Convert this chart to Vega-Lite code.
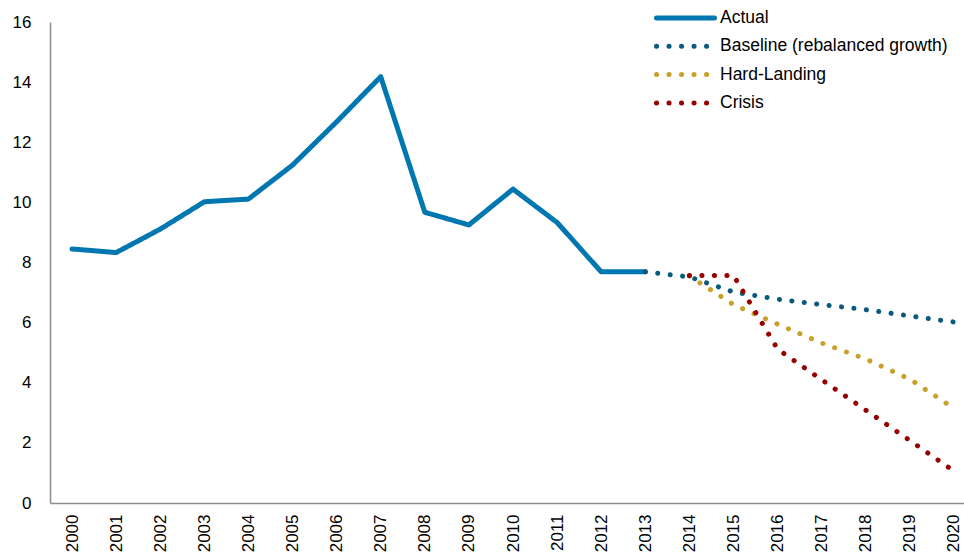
{
  "$schema": "https://vega.github.io/schema/vega-lite/v6.json",
  "autosize": {"type": "none"},
  "padding": {"left": 50, "top": 22, "right": 0, "bottom": 53},
  "width": 915,
  "height": 481,
  "background": "white",
  "config": {
    "view": {"stroke": null},
    "font": "Liberation Sans",
    "axis": {"grid": false, "domainColor": "#8C8C8C", "domainWidth": 1.5, "labelColor": "#000000", "labelFontSize": 17, "labelFont": "Liberation Sans", "ticks": false, "title": null}
  },
  "data": {"values": [
    {"year": 2000, "value": 8.45, "series": "Actual"},
    {"year": 2001, "value": 8.33, "series": "Actual"},
    {"year": 2002, "value": 9.11, "series": "Actual"},
    {"year": 2003, "value": 10.02, "series": "Actual"},
    {"year": 2004, "value": 10.11, "series": "Actual"},
    {"year": 2005, "value": 11.24, "series": "Actual"},
    {"year": 2006, "value": 12.68, "series": "Actual"},
    {"year": 2007, "value": 14.18, "series": "Actual"},
    {"year": 2008, "value": 9.67, "series": "Actual"},
    {"year": 2009, "value": 9.25, "series": "Actual"},
    {"year": 2010, "value": 10.44, "series": "Actual"},
    {"year": 2011, "value": 9.33, "series": "Actual"},
    {"year": 2012, "value": 7.69, "series": "Actual"},
    {"year": 2013, "value": 7.69, "series": "Actual"},
    {"year": 2013, "value": 7.69, "series": "Baseline (rebalanced growth)"},
    {"year": 2014, "value": 7.52, "series": "Baseline (rebalanced growth)"},
    {"year": 2015, "value": 7.02, "series": "Baseline (rebalanced growth)"},
    {"year": 2016, "value": 6.78, "series": "Baseline (rebalanced growth)"},
    {"year": 2017, "value": 6.6, "series": "Baseline (rebalanced growth)"},
    {"year": 2018, "value": 6.43, "series": "Baseline (rebalanced growth)"},
    {"year": 2019, "value": 6.22, "series": "Baseline (rebalanced growth)"},
    {"year": 2020, "value": 6.02, "series": "Baseline (rebalanced growth)"},
    {"year": 2014, "value": 7.55, "series": "Hard-Landing"},
    {"year": 2015, "value": 6.6, "series": "Hard-Landing"},
    {"year": 2016, "value": 5.95, "series": "Hard-Landing"},
    {"year": 2017, "value": 5.32, "series": "Hard-Landing"},
    {"year": 2018, "value": 4.79, "series": "Hard-Landing"},
    {"year": 2019, "value": 4.12, "series": "Hard-Landing"},
    {"year": 2020, "value": 3.15, "series": "Hard-Landing"},
    {"year": 2014, "value": 7.57, "series": "Crisis"},
    {"year": 2015, "value": 7.57, "series": "Crisis"},
    {"year": 2016, "value": 5.12, "series": "Crisis"},
    {"year": 2017, "value": 4.1, "series": "Crisis"},
    {"year": 2018, "value": 3.09, "series": "Crisis"},
    {"year": 2019, "value": 2.08, "series": "Crisis"},
    {"year": 2020, "value": 1.06, "series": "Crisis"}
  ]},
  "mark": {"type": "line", "strokeWidth": 5, "strokeCap": "round", "strokeJoin": "round"},
  "encoding": {
    "x": {"field": "year", "type": "quantitative",
      "scale": {"domain": [1999.5, 2020.25], "nice": false, "zero": false},
      "axis": {"values": [2000,2001,2002,2003,2004,2005,2006,2007,2008,2009,2010,2011,2012,2013,2014,2015,2016,2017,2018,2019,2020], "format": "d", "labelAngle": -90, "labelAlign": "right", "labelBaseline": "middle", "labelPadding": 11, "labelFlush": false, "labelOverlap": false}},
    "y": {"field": "value", "type": "quantitative",
      "scale": {"domain": [0, 16], "nice": false},
      "axis": {"values": [0,2,4,6,8,10,12,14,16], "labelPadding": 19, "labelFlush": false, "labelOverlap": false}},
    "color": {"field": "series", "type": "nominal",
      "scale": {"domain": ["Actual", "Baseline (rebalanced growth)", "Hard-Landing", "Crisis"], "range": ["#0077B0", "#0B5A7E", "#C9A02A", "#960000"]},
      "legend": {"title": null, "orient": "none", "legendX": 604, "legendY": -17, "padding": 0, "symbolType": "stroke", "symbolSize": 3364, "symbolStrokeWidth": 5, "clipHeight": 26, "rowPadding": 2.3, "labelFontSize": 17.5, "labelFont": "Liberation Sans", "labelColor": "#000000", "labelOffset": 3, "labelLimit": 400,
        "encode": {"symbols": {"update": {"strokeCap": {"value": "round"}}}}}},
    "strokeDash": {"field": "series", "type": "nominal",
      "scale": {"domain": ["Actual", "Baseline (rebalanced growth)", "Hard-Landing", "Crisis"], "range": [[1, 0], [0.1, 12.4], [0.1, 12.4], [0.1, 12.4]]},
      "legend": null},
    "order": {"field": "year", "type": "quantitative"}
  }
}
